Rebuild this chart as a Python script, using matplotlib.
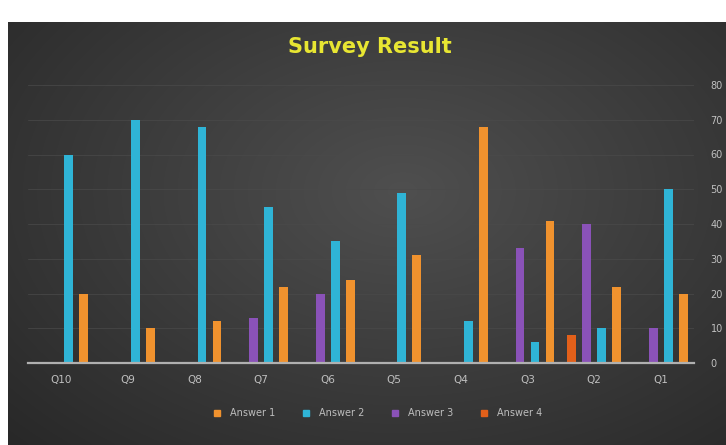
import numpy as np
import matplotlib
matplotlib.use("Agg")
import matplotlib.pyplot as plt

categories = ["Q1", "Q2", "Q3", "Q4", "Q5", "Q6", "Q7", "Q8", "Q9", "Q10"]
answer1 = [20, 22, 41, 68, 31, 24, 22, 12, 10, 20]
answer2 = [50, 10, 6, 12, 49, 35, 45, 68, 70, 60]
answer3 = [10, 40, 33, 0, 0, 20, 13, 0, 0, 0]
answer4 = [0, 8, 0, 0, 0, 0, 0, 0, 0, 0]
series_names = ["Answer 1", "Answer 2", "Answer 3", "Answer 4"]
yticks = [0, 10, 20, 30, 40, 50, 60, 70, 80]

colors = ["#f0922e", "#2fb4d6", "#8a52b8", "#e2601a"]

W, H = 726, 445
fig = plt.figure(figsize=(W / 100, H / 100), dpi=100)
fig.patch.set_facecolor("white")

# dark gradient background panel
bg = fig.add_axes([8 / W, 0, 1 - 8 / W, (H - 22) / H])
yy, xx = np.mgrid[0:1:200j, 0:1:300j]
r = np.sqrt(((xx - 0.55) / 0.8) ** 2 + ((yy - 0.4) / 0.9) ** 2)
val = 0.31 - 0.16 * np.clip(r, 0, 1.2)
img = np.dstack([val, val, val])
bg.imshow(img, aspect="auto", extent=[0, 1, 0, 1], interpolation="bicubic")
bg.set_axis_off()

ax = fig.add_axes([28 / W, (H - 363) / H, (694 - 28) / W, (363 - 85) / H])
ax.set_facecolor("none")

x = np.arange(len(categories))
slot = 0.225
bw = 0.13
data = [answer1, answer2, answer3, answer4]
offsets = [-1.5, -0.5, 0.5, 1.5]
for vals, c, off, name in zip(data, colors, offsets, series_names):
    ax.bar(x + off * slot, vals, width=bw, color=c, label=name, zorder=3,
           edgecolor="none")

ax.set_xlim(-0.5, len(categories) - 0.5)
ax.invert_xaxis()
ax.set_ylim(0, 80)
ax.set_yticks(yticks)
ax.yaxis.tick_right()
ax.tick_params(axis="y", length=0, labelcolor="#c0c0c0", labelsize=7, pad=12)
ax.set_xticks(x)
ax.set_xticklabels(categories)
ax.tick_params(axis="x", length=0, labelcolor="#c0c0c0", labelsize=7.5, pad=9)
ax.grid(axis="y", color="#4a4a4a", linewidth=0.5, zorder=0)
for s in ["top", "right", "left"]:
    ax.spines[s].set_visible(False)
ax.spines["bottom"].set_color("#b0b0b0")
ax.spines["bottom"].set_linewidth(1.6)
ax.spines["bottom"].set_zorder(4)

fig.text(370 / W, 1 - 47 / H, "Survey Result", color="#e8e632", fontsize=15,
         fontweight="bold", ha="center", va="center")

handles = [plt.Line2D([], [], marker="s", linestyle="none", markersize=4,
                      color=c) for c in colors]
leg = fig.legend(handles, series_names, loc="center", ncol=4,
                 bbox_to_anchor=(375 / W, 1 - 413 / H), frameon=False,
                 fontsize=7, labelcolor="#bdbdbd", handletextpad=0.3,
                 columnspacing=2.2)

fig.savefig("out.png", dpi=100, facecolor=fig.get_facecolor())
